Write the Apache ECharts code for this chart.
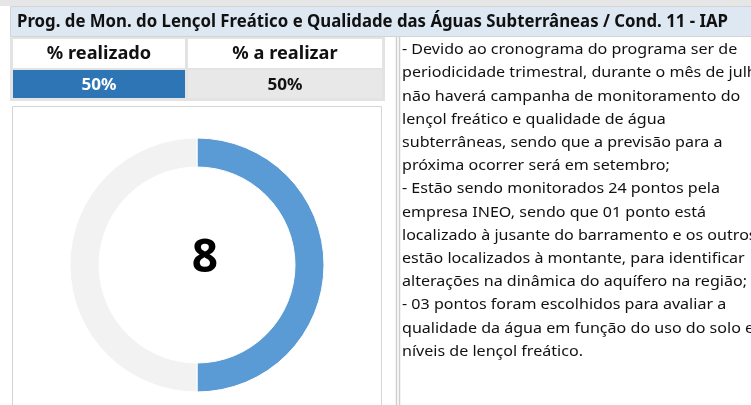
<!DOCTYPE html>
<html>
<head>
<meta charset="utf-8">
<script src="https://cdn.jsdelivr.net/npm/echarts@6/dist/echarts.min.js"></script>
<style>
  html, body { margin: 0; padding: 0; background: #fff; }
  #painel { width: 751px; height: 405px; }
</style>
</head>
<body>
<div id="painel"></div>
<script>
// dados do painel
var titulo = 'Prog. de Mon. do Lençol Freático e Qualidade das Águas Subterrâneas / Cond. 11 - IAP';
var cabecalhos = ['% realizado', '% a realizar'];
var percentuais = [50, 50];
var nomesRosca = ['realizado', 'a realizar'];
var valoresRosca = [50, 50];
var rotuloCentro = '8';
var observacoes = [
  '- Devido ao cronograma do programa ser de',
  'periodicidade trimestral, durante o mês de julho',
  'não haverá campanha de monitoramento do',
  'lençol freático e qualidade de água',
  'subterrâneas, sendo que a previsão para a',
  'próxima ocorrer será em setembro;',
  '- Estão sendo monitorados 24 pontos pela',
  'empresa INEO, sendo que 01 ponto está',
  'localizado à jusante do barramento e os outros',
  'estão localizados à montante, para identificar',
  'alterações na dinâmica do aquífero na região;',
  '- 03 pontos foram escolhidos para avaliar a',
  'qualidade da água em função do uso do solo e',
  'níveis de lençol freático.'
];

var fonte = '"Noto Sans", "Open Sans", sans-serif';
var cinzaBorda = '#d4d4d4';

// mede o texto para comprimir na largura do original (Calibri e mais estreita)
var ctx = document.createElement('canvas').getContext('2d');
function escala (txt, font, largura) {
  ctx.font = font;
  return largura / ctx.measureText(txt).width;
}

var fTitulo = 'bold 17px ' + fonte;
var fCab = 'bold 17px ' + fonte;
var fTexto = '15px ' + fonte;
var sTitulo = escala(titulo, fTitulo, 711);
var sTexto = escala(observacoes[10], fTexto, 345);

var elementos = [];

// faixa cinza no topo
elementos.push({
  type: 'rect', shape: { x: 0, y: 0, width: 751, height: 6 },
  style: { fill: '#e6e6e6' }
});

// fundo do titulo
elementos.push({
  type: 'rect', shape: { x: 10.5, y: 6.5, width: 745, height: 30 },
  style: { fill: '#dde8f3', stroke: cinzaBorda, lineWidth: 1 }
});
elementos.push({
  type: 'text', x: 17, y: 22, scaleX: sTitulo,
  style: { text: titulo, font: fTitulo, fill: '#111', verticalAlign: 'middle' }
});

// moldura da tabela
elementos.push({
  type: 'rect', shape: { x: 10, y: 37, width: 375, height: 64 },
  style: { fill: '#e3e3e3' }
});

var colX = [13, 188];
var colW = [172, 194];
cabecalhos.forEach(function (c, i) {
  elementos.push({
    type: 'rect', shape: { x: colX[i], y: 39, width: colW[i], height: 29 },
    style: { fill: '#fff' }
  });
  elementos.push({
    type: 'text', x: colX[i] + colW[i] / 2, y: 54, scaleX: sTexto,
    style: { text: c, font: fCab, fill: '#111', align: 'center', verticalAlign: 'middle' }
  });
  elementos.push({
    type: 'rect', shape: { x: colX[i], y: 70, width: colW[i], height: 28 },
    style: { fill: i === 0 ? '#2e75b6' : '#e8e8e8' }
  });
  elementos.push({
    type: 'text', x: colX[i] + colW[i] / 2, y: 85, scaleX: sTexto,
    style: { text: percentuais[i] + '%', font: 'bold 16px ' + fonte, fill: i === 0 ? '#fff' : '#111', align: 'center', verticalAlign: 'middle' }
  });
});

// caixa do grafico
elementos.push({
  type: 'rect', shape: { x: 12.5, y: 106.5, width: 369, height: 310 },
  style: { fill: '#fff', stroke: cinzaBorda, lineWidth: 1 }, z: -1
});

// linhas duplas da caixa de texto
[396.5, 399.5].forEach(function (x) {
  elementos.push({
    type: 'line', shape: { x1: x, y1: 37, x2: x, y2: 405 },
    style: { stroke: '#cfcfcf', lineWidth: 1.5 }
  });
});

observacoes.forEach(function (l, i) {
  elementos.push({
    type: 'text', x: 402, y: 50 + i * 23.2, scaleX: sTexto,
    style: { text: l, font: fTexto, fill: '#111', verticalAlign: 'middle' }
  });
});

// numero central
elementos.push({
  type: 'text', x: 205, y: 259,
  style: { text: rotuloCentro, font: 'bold 46px ' + fonte, fill: '#000', align: 'center', verticalAlign: 'middle' }
});

var grafico = echarts.init(document.getElementById('painel'));
grafico.setOption({
  animation: false,
  graphic: { elements: elementos },
  series: [{
    type: 'pie',
    silent: true,
    center: [197, 265],
    radius: [98, 127],
    startAngle: 90,
    clockwise: true,
    label: { show: false },
    labelLine: { show: false },
    itemStyle: { borderColor: '#fff', borderWidth: 1 },
    color: ['#5b9bd5', '#f2f2f2'],
    data: nomesRosca.map(function (n, i) { return { name: n, value: valoresRosca[i] }; })
  }]
});
</script>
</body>
</html>
